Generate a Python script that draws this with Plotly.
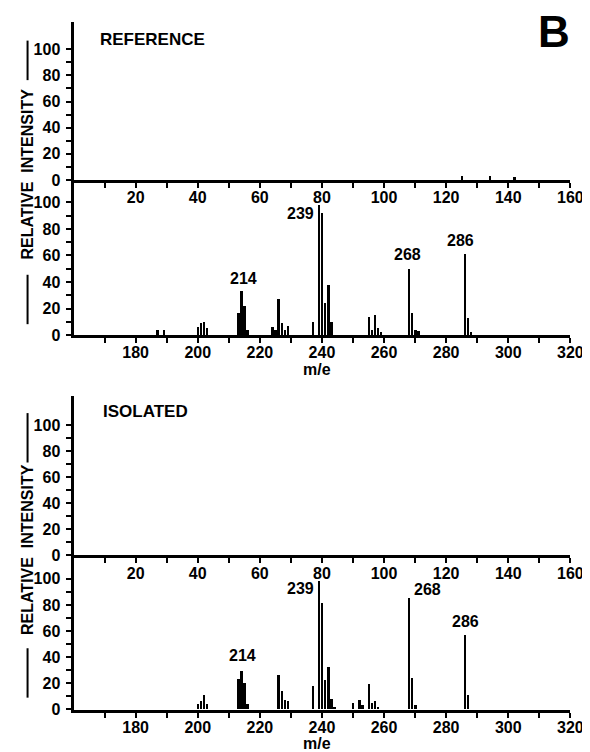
import plotly.graph_objects as go

# ---------------- data ----------------
ref_low_mz = [125, 134, 142]
ref_low_int = [3, 3, 2]

ref_mz = [187, 189, 200, 201, 202, 203, 213, 214, 215, 216, 224, 225, 226, 227, 228, 229,
          237, 239, 240, 241, 242, 243, 255, 256, 257, 258, 259, 268, 269, 270, 271, 286, 287, 288]
ref_int = [4, 4, 6, 9, 10, 5, 17, 33, 22, 4, 6, 4, 27, 9, 4, 7,
           10, 98, 92, 24, 38, 10, 14, 4, 15, 5, 2, 50, 17, 4, 3, 61, 13, 2]

iso_low_mz = []
iso_low_int = []

iso_mz = [200, 201, 202, 203, 213, 214, 215, 216, 226, 227, 228, 229,
          237, 239, 240, 241, 242, 243, 244, 250, 252, 253, 255, 256, 257, 258,
          268, 269, 270, 286, 287]
iso_int = [4, 6, 11, 4, 23, 29, 20, 4, 26, 14, 7, 6,
           18, 98, 81, 22, 32, 8, 2, 5, 7, 3, 19, 5, 6, 2,
           85, 24, 3, 57, 11]

upper_xticks = list(range(10, 161, 10))
upper_xlabels = [str(v) if v % 20 == 0 else "" for v in upper_xticks]
lower_xticks = list(range(170, 321, 10))
lower_xlabels = [str(v) if v % 20 == 0 else "" for v in lower_xticks]
yticks = list(range(0, 101, 10))
ylabels = [str(v) if v % 20 == 0 else "" for v in yticks]

ref_peaks = [(239, 233.2, 91.5), (214, 214.8, 42.5), (268, 267.6, 61), (286, 284.7, 71.5)]
iso_peaks = [(239, 233.2, 93), (268, 273.9, 91.5), (286, 286.1, 67.2), (214, 214.3, 41.5)]

# ---------------- figure ----------------
W, H = 590, 752
FONT = "Liberation Sans"


def py(px):
    return 1 - px / H


def px_x(px):
    return px / W


fig = go.Figure()
bar_w = 0.62
series = [
    (ref_low_mz, ref_low_int, "x", "y"),
    (ref_mz, ref_int, "x2", "y2"),
    (iso_low_mz, iso_low_int, "x3", "y3"),
    (iso_mz, iso_int, "x4", "y4"),
]
for mz, inten, xa, ya in series:
    fig.add_trace(go.Bar(x=mz, y=inten, xaxis=xa, yaxis=ya, width=bar_w,
                         marker=dict(color="black", line=dict(width=0)),
                         showlegend=False, hoverinfo="x+y"))

tickfont = dict(family=FONT, size=16, color="black", weight="bold")
xdom = [67 / W, 575 / W]


def xaxis(rng, tv, tt, anchor):
    return dict(domain=xdom, range=rng, anchor=anchor, showline=True, linecolor="black",
                linewidth=3, ticks="outside", ticklen=5, tickwidth=2, tickcolor="black",
                tickmode="array", tickvals=tv, ticktext=tt, tickfont=tickfont,
                ticklabelstandoff=-4,
                showgrid=False, zeroline=False, fixedrange=True)


def yaxis(dom, top, anchor):
    return dict(domain=dom, range=[0, top], anchor=anchor, showline=True, linecolor="black",
                linewidth=3, ticks="outside", ticklen=5, tickwidth=2, tickcolor="black",
                tickmode="array", tickvals=yticks, ticktext=ylabels, tickfont=tickfont,
                ticklabelstandoff=2,
                showgrid=False, zeroline=False, fixedrange=True)


fig.update_layout(
    width=W, height=H, margin=dict(l=0, r=0, t=0, b=0),
    paper_bgcolor="white", plot_bgcolor="white", bargap=0,
    xaxis=xaxis([0, 160], upper_xticks, upper_xlabels, "y"),
    yaxis=yaxis([py(174), py(14)], 121, "x"),
    xaxis2=xaxis([160, 320], lower_xticks, lower_xlabels, "y2"),
    yaxis2=yaxis([py(331), py(174)], 117, "x2"),
    xaxis3=xaxis([0, 160], upper_xticks, upper_xlabels, "y3"),
    yaxis3=yaxis([py(554), py(393)], 122, "x3"),
    xaxis4=xaxis([160, 320], lower_xticks, lower_xlabels, "y4"),
    yaxis4=yaxis([py(710), py(554)], 118, "x4"),
)

ann = []
txt = dict(family=FONT, color="black", weight="bold")
ann.append(dict(text="B", x=px_x(558), y=py(24), xref="paper", yref="paper", showarrow=False,
                xanchor="center", yanchor="middle", font=dict(size=44, **txt)))
ann.append(dict(text="REFERENCE", x=px_x(92), y=py(32), xref="paper", yref="paper",
                xanchor="left", yanchor="middle", showarrow=False, font=dict(size=17, **txt)))
ann.append(dict(text="ISOLATED", x=px_x(95), y=py(408), xref="paper", yref="paper",
                xanchor="left", yanchor="middle", showarrow=False, font=dict(size=17, **txt)))
for lab, x, y in ref_peaks:
    ann.append(dict(text=str(lab), x=x, y=y, xref="x2", yref="y2", showarrow=False,
                    xanchor="center", yanchor="middle", font=dict(size=16, **txt)))
for lab, x, y in iso_peaks:
    ann.append(dict(text=str(lab), x=x, y=y, xref="x4", yref="y4", showarrow=False,
                    xanchor="center", yanchor="middle", font=dict(size=16, **txt)))
for cy in (366, 744):
    ann.append(dict(text="m/e", x=px_x(316), y=py(cy), xref="paper", yref="paper",
                    xanchor="center", yanchor="middle",
                    showarrow=False, font=dict(size=16, **txt)))
for cy in (168, 548):
    ann.append(dict(text="RELATIVE  INTENSITY", x=px_x(20), y=py(cy), xref="paper",
                    yref="paper", textangle=-90, xanchor="center", yanchor="middle",
                    showarrow=False, font=dict(size=16, **txt)))
fig.update_layout(annotations=ann)

shapes = []
for (a, b) in [(33, 73), (270, 320), (410, 460), (648, 698)]:
    shapes.append(dict(type="line", xref="paper", yref="paper", x0=px_x(20), x1=px_x(20),
                       y0=py(a), y1=py(b), line=dict(color="black", width=2)))
fig.update_layout(shapes=shapes)

fig.write_html("out.html")
